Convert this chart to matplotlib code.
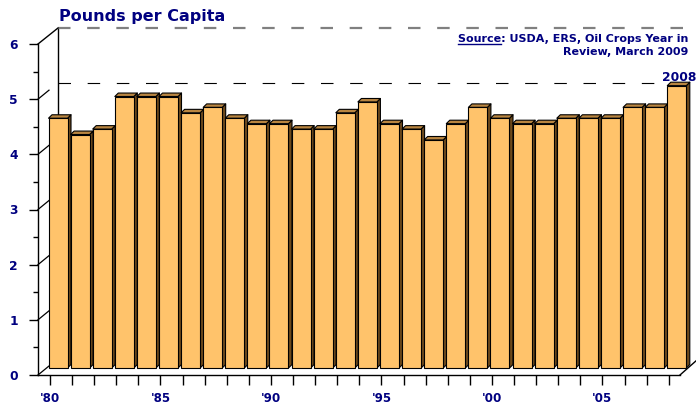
import numpy as np
import matplotlib.pyplot as plt
from matplotlib.collections import PolyCollection
from matplotlib.lines import Line2D
from matplotlib.transforms import offset_copy, Affine2D

plt.rcParams['lines.scale_dashes'] = False

# per capita consumption, pounds
years = np.arange(1980, 2009)
pounds = [4.6, 4.3, 4.4, 5.0, 5.0, 5.0, 4.7, 4.8, 4.6, 4.5,
          4.5, 4.4, 4.4, 4.7, 4.9, 4.5, 4.4, 4.2, 4.5, 4.8,
          4.6, 4.5, 4.5, 4.6, 4.6, 4.6, 4.8, 4.8, 5.2]
label_years = [1980, 1985, 1990, 1995, 2000, 2005]
label_text = ["'80", "'85", "'90", "'95", "'00", "'05"]
y_ticks = [0, 1, 2, 3, 4, 5, 6]

navy = '#000080'
front_col = '#FFC36B'
top_col = '#B98540'
side_col = '#6E4A1C'

W, H = 696, 409
fig = plt.figure(figsize=(W / 100, H / 100), dpi=100)
ax = fig.add_axes([38 / W, 34 / H, 642 / W, 331 / H])
ax.set_xlim(-0.543, 28.507)
ax.set_ylim(0, 6)
px_x = 642 / (28.507 + 0.543)
px_y = 331 / 6

for s in ['top', 'right']:
    ax.spines[s].set_visible(False)
ax.spines['left'].set_linewidth(1.0)
ax.spines['bottom'].set_linewidth(1.0)
ax.patch.set_visible(False)

x = np.arange(len(years))
vals = np.array(pounds)

# back wall (depth 20px right, 16px up)
wall_tr = offset_copy(ax.transData, fig=fig, x=20, y=16, units='dots')
x0 = -0.543
ax.plot([x0, x0], [0, 6], color='black', lw=1.0, transform=wall_tr, zorder=1, clip_on=False)
ax.plot([x0, 28.0], [6, 6], color='#808080', lw=1.6, ls=(0, (9, 12)),
        transform=wall_tr, zorder=1, clip_on=False)
ax.plot([x0, 28.0], [5, 5], color='black', lw=0.8, ls=(0, (9, 12)),
        transform=wall_tr, zorder=1, clip_on=False)

# depth edges from the front axis
ax.plot([x0, x0 + 20 / px_x], [6, 6 + 16 / px_y], color='black', lw=1.0, clip_on=False, zorder=1)
for k in y_ticks[:-1]:
    ax.plot([x0, x0 + 11 / px_x], [k, k + 9 / px_y], color='black', lw=0.9, clip_on=False, zorder=1)
xr = 28.507
ax.plot([xr, xr + 17 / px_x], [0, 15 / px_y], color='black', lw=1.0, clip_on=False, zorder=1)
ax.plot([xr + 17 / px_x, xr + 30 / px_x], [15 / px_y, 15 / px_y], color='black', lw=1.0,
        clip_on=False, zorder=1)

# bars sit a little deeper, so their vertical scale is slightly smaller
bar_tr = Affine2D().scale(1, 54.3 / px_y) + offset_copy(ax.transData, fig=fig, x=8, y=7, units='dots')
w = 19 / px_x
ddx, ddy = 3.5 / px_x, 3.5 / px_y
left = x - w / 2
right = x + w / 2
tops = [[(l, v), (r, v), (r + ddx, v + ddy), (l + ddx, v + ddy)]
        for l, r, v in zip(left, right, vals)]
sides = [[(r, 0), (r, v), (r + ddx, v + ddy), (r + ddx, ddy)]
         for r, v in zip(right, vals)]
pc_side = PolyCollection(sides, facecolors=side_col, edgecolors='black',
                         linewidths=0.8, transform=bar_tr, zorder=3)
pc_top = PolyCollection(tops, facecolors=top_col, edgecolors='black',
                        linewidths=0.8, transform=bar_tr, zorder=3)
for pc in (pc_side, pc_top):
    pc.set_clip_on(False)
    ax.add_collection(pc)
bars = ax.bar(x, vals, width=w, color=front_col, edgecolor='black', linewidth=0.8,
              transform=bar_tr, zorder=4)
for b in bars:
    b.set_clip_on(False)

ax.text(x[-1] + 0.1, vals[-1] + 0.08, '2008', transform=bar_tr, ha='center', va='baseline',
        fontsize=8.8, fontweight='bold', color=navy, zorder=5)

# axes ticks
ax.set_yticks(y_ticks)
ax.set_yticks(np.arange(0.5, 6, 1.0), minor=True)
ax.tick_params(axis='y', which='major', direction='out', length=6.5, width=1.0, pad=8,
               labelsize=8.8, labelcolor=navy)
ax.tick_params(axis='y', which='minor', direction='out', length=3.6, width=1.0)
ax.set_xticks(x)
ax.set_xticklabels([label_text[label_years.index(y)] if y in label_years else ''
                    for y in years])
ax.tick_params(axis='x', direction='out', length=7, width=1.0, pad=5,
               labelsize=8.6, labelcolor=navy)
for t in ax.get_xticklabels() + ax.get_yticklabels():
    t.set_fontweight('bold')

fig.text(59 / W, 1 - 21 / H, 'Pounds per Capita', ha='left', va='baseline',
         fontsize=11.5, fontweight='bold', color=navy)

src1 = fig.text(688 / W, 1 - 42 / H, 'Source: USDA, ERS, Oil Crops Year in', ha='right',
                va='baseline', fontsize=8, fontweight='bold', color=navy)
fig.text(688 / W, 1 - 55 / H, 'Review, March 2009', ha='right', va='baseline',
         fontsize=8, fontweight='bold', color=navy)

fig.canvas.draw()
rend = fig.canvas.get_renderer()
bb = src1.get_window_extent(rend)
tmp = fig.text(0, 0, 'Source', fontsize=8, fontweight='bold')
sw = tmp.get_window_extent(rend).width
tmp.remove()
uy = (H - 43.5) / H
fig.add_artist(Line2D([bb.x0 / W, (bb.x0 + sw) / W], [uy, uy], transform=fig.transFigure,
                      color=navy, lw=1.0))

fig.savefig('out.png', dpi=100)
